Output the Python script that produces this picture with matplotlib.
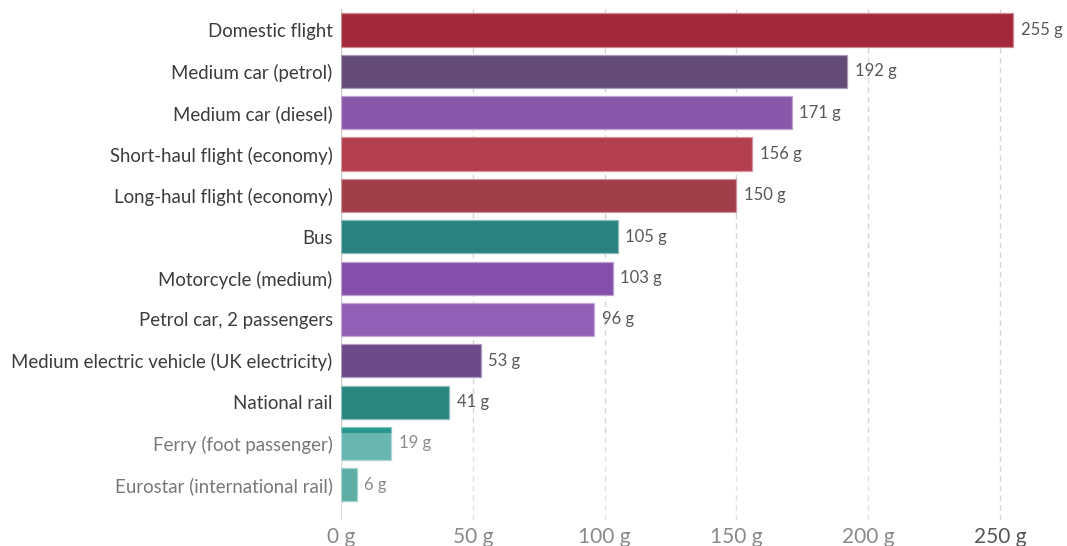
import matplotlib
matplotlib.use("Agg")
import matplotlib.pyplot as plt
from matplotlib.patches import Rectangle
import matplotlib.colors as mcolors
import numpy as np

categories = [
    "Domestic flight",
    "Medium car (petrol)",
    "Medium car (diesel)",
    "Short-haul flight (economy)",
    "Long-haul flight (economy)",
    "Bus",
    "Motorcycle (medium)",
    "Petrol car, 2 passengers",
    "Medium electric vehicle (UK electricity)",
    "National rail",
    "Ferry (foot passenger)",
    "Eurostar (international rail)",
]
values = [255, 192, 171, 156, 150, 105, 103, 96, 53, 41, 19, 6]
bar_colors = ["#A3283B", "#634A77", "#8958AA", "#B23E4F", "#A03E4A", "#2A827E",
              "#844FAA", "#9160B6", "#6C4A88", "#2A8780", "#26968E", "#178B7D"]
tick_values = [0, 50, 100, 150, 200, 250]
tick_labels = ["0 g", "50 g", "100 g", "150 g", "200 g", "250 g"]

plt.rcParams['font.family'] = ['Lato', 'DejaVu Sans']

W, H = 1067, 546
fig = plt.figure(figsize=(W / 100, H / 100), dpi=100)
x0_px = 341
px_per_unit = (1000 - 341) / 250
xmax = 262
top_px, bot_px = 9.3, 520
ax = fig.add_axes([x0_px / W, 1 - bot_px / H, xmax * px_per_unit / W, (bot_px - top_px) / H])

y = np.arange(len(categories))
edges = [tuple(0.55 * np.array(mcolors.to_rgb(c)) + 0.45) for c in bar_colors]
ax.barh(y, values, height=0.8, color=bar_colors, edgecolor=edges, linewidth=0.9, zorder=3)

for yi, v in zip(y, values):
    ax.annotate(f"{v} g", xy=(v, yi), xytext=(5.5, 0), textcoords="offset points",
                va="center", ha="left", fontsize=12, color="#585858", zorder=4)

ax.set_xlim(0, xmax)
ax.set_ylim(11.85, -0.5)
ax.set_yticks(y)
ax.set_yticklabels(categories, fontsize=13.4, color="#3c3c3c")
ax.set_xticks(tick_values)
ax.set_xticklabels(tick_labels, fontsize=15, color="#555555")
ax.tick_params(axis="both", length=0)
ax.tick_params(axis="y", pad=6)
ax.tick_params(axis="x", pad=5)

for s in ax.spines.values():
    s.set_visible(False)
for t in tick_values[1:]:
    ax.axvline(t, color="#d6d6d6", linestyle=(0, (4, 3)), linewidth=1, zorder=1)
ax.axvline(0, color="#cccccc", linewidth=1, zorder=2)

# faded overlay at the bottom of the image
fig.patches.append(Rectangle((0, 0), 965 / W, (H - 433) / H, transform=fig.transFigure,
                             facecolor="white", alpha=0.31, edgecolor="none", zorder=10))

fig.savefig("out.png", dpi=100, facecolor="white")
